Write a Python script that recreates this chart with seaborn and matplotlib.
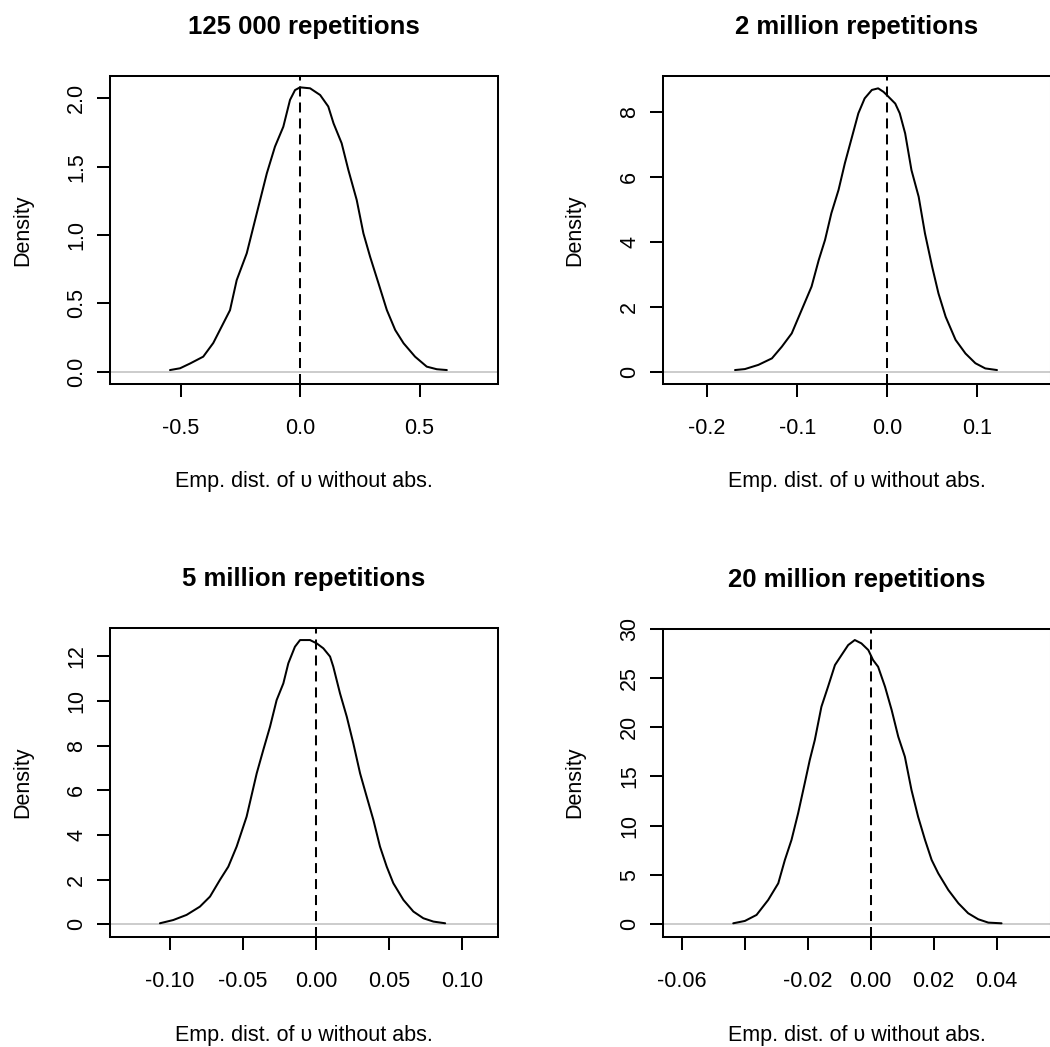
import matplotlib
matplotlib.use("Agg")
import matplotlib.pyplot as plt
import seaborn as sns
import pandas as pd

sns.set_style("white")
plt.rcParams["font.family"] = ["Liberation Sans", "DejaVu Sans"]
plt.rcParams["lines.scale_dashes"] = False

# ---- data ----
titles = ["125 000 repetitions", "2 million repetitions",
          "5 million repetitions", "20 million repetitions"]
xlabel_text = "Emp. dist. of \u03c5 without abs."
ylabel_text = "Density"

p1_x = [-0.544, -0.502, -0.460, -0.405, -0.363, -0.321, -0.293, -0.265, -0.223, -0.181,
        -0.139, -0.105, -0.070, -0.042, -0.021, 0.0, 0.042, 0.084, 0.118, 0.140,
        0.174, 0.202, 0.237, 0.265, 0.293, 0.328, 0.363, 0.398, 0.433, 0.481,
        0.530, 0.572, 0.614]
p1_y = [0.012, 0.025, 0.06, 0.11, 0.21, 0.354, 0.45, 0.67, 0.866, 1.159,
        1.451, 1.646, 1.792, 1.988, 2.06, 2.08, 2.073, 2.024, 1.94, 1.817,
        1.671, 1.476, 1.256, 1.012, 0.841, 0.647, 0.451, 0.305, 0.208, 0.11,
        0.037, 0.018, 0.012]

p2_x = [-0.169, -0.158, -0.143, -0.128, -0.117, -0.106, -0.095, -0.084, -0.076, -0.069,
        -0.062, -0.054, -0.047, -0.039, -0.032, -0.025, -0.017, -0.010, -0.004, 0.0015,
        0.009, 0.014, 0.020, 0.027, 0.035, 0.042, 0.050, 0.057, 0.065, 0.076,
        0.087, 0.098, 0.109, 0.122]
p2_y = [0.05, 0.08, 0.21, 0.41, 0.77, 1.18, 1.90, 2.62, 3.44, 4.06,
        4.88, 5.60, 6.42, 7.24, 7.96, 8.42, 8.68, 8.73, 8.62, 8.47,
        8.26, 7.96, 7.34, 6.21, 5.39, 4.26, 3.23, 2.41, 1.69, 0.98,
        0.56, 0.26, 0.10, 0.05]

p3_x = [-0.1066, -0.0975, -0.0884, -0.0793, -0.0724, -0.0656, -0.0599, -0.0542, -0.0474, -0.0405,
        -0.0360, -0.0314, -0.0269, -0.0223, -0.0189, -0.0144, -0.0109, -0.0041, 0.0005, 0.0050,
        0.0096, 0.0118, 0.0164, 0.0210, 0.0255, 0.0301, 0.0346, 0.0392, 0.0437, 0.0483,
        0.0528, 0.0597, 0.0665, 0.0733, 0.0802, 0.0882]
p3_y = [0.045, 0.19, 0.42, 0.79, 1.24, 1.99, 2.58, 3.48, 4.82, 6.76,
        7.81, 8.85, 10.04, 10.79, 11.69, 12.43, 12.73, 12.73, 12.58, 12.36,
        11.99, 11.54, 10.34, 9.30, 8.10, 6.76, 5.72, 4.67, 3.48, 2.58,
        1.84, 1.09, 0.57, 0.27, 0.12, 0.045]

p4_x = [-0.0436, -0.0399, -0.0362, -0.0325, -0.0293, -0.0272, -0.0251, -0.0230, -0.0209, -0.0193,
        -0.0177, -0.0156, -0.0135, -0.0113, -0.0092, -0.0071, -0.0050, -0.0029, -0.0007, 0.0008,
        0.0024, 0.0046, 0.0067, 0.0088, 0.0109, 0.0130, 0.0151, 0.0173, 0.0194, 0.0215,
        0.0247, 0.0279, 0.0310, 0.0342, 0.0374, 0.0416]
p4_y = [0.10, 0.34, 0.95, 2.47, 4.16, 6.53, 8.56, 11.26, 14.31, 16.67,
        18.70, 22.08, 24.11, 26.31, 27.33, 28.34, 28.85, 28.51, 27.83, 26.82,
        26.14, 24.11, 21.75, 19.04, 17.01, 13.63, 10.92, 8.56, 6.53, 5.17,
        3.48, 2.13, 1.12, 0.51, 0.17, 0.10]

p1_xticks = [-0.5, 0.0, 0.5]
p1_xticklabels = ["-0.5", "0.0", "0.5"]
p1_yticks = [0.0, 0.5, 1.0, 1.5, 2.0]
p1_yticklabels = ["0.0", "0.5", "1.0", "1.5", "2.0"]

p2_xticks = [-0.2, -0.1, 0.0, 0.1]
p2_xticklabels = ["-0.2", "-0.1", "0.0", "0.1"]
p2_yticks = [0, 2, 4, 6, 8]
p2_yticklabels = ["0", "2", "4", "6", "8"]

p3_xticks = [-0.10, -0.05, 0.0, 0.05, 0.10]
p3_xticklabels = ["-0.10", "-0.05", "0.00", "0.05", "0.10"]
p3_yticks = [0, 2, 4, 6, 8, 10, 12]
p3_yticklabels = ["0", "2", "4", "6", "8", "10", "12"]

p4_xticks = [-0.06, -0.04, -0.02, 0.0, 0.02, 0.04]
p4_xticklabels = ["-0.06", "", "-0.02", "0.00", "0.02", "0.04"]
p4_yticks = [0, 5, 10, 15, 20, 25, 30]
p4_yticklabels = ["0", "5", "10", "15", "20", "25", "30"]

panels = [
    dict(x=p1_x, y=p1_y, xt=p1_xticks, xtl=p1_xticklabels, yt=p1_yticks, ytl=p1_yticklabels,
         xlim=(-0.795, 0.828), ylim=(-0.090, 2.163)),
    dict(x=p2_x, y=p2_y, xt=p2_xticks, xtl=p2_xticklabels, yt=p2_yticks, ytl=p2_yticklabels,
         xlim=(-0.249, 0.182), ylim=(-0.38, 9.11)),
    dict(x=p3_x, y=p3_y, xt=p3_xticks, xtl=p3_xticklabels, yt=p3_yticks, ytl=p3_yticklabels,
         xlim=(-0.1407, 0.1243), ylim=(-0.57, 13.27)),
    dict(x=p4_x, y=p4_y, xt=p4_xticks, xtl=p4_xticklabels, yt=p4_yticks, ytl=p4_yticklabels,
         xlim=(-0.0659, 0.0573), ylim=(-1.29, 30.02)),
]

# ---- layout ----
W, H = 1050, 1047
fig = plt.figure(figsize=(W / 100, H / 100), dpi=100)
boxes = [(110, 76, 498, 384), (663, 76, 1051, 384),
         (110, 628, 498, 937), (663, 628.5, 1051, 937)]

LW = 1.45
FS = 15.5
for i, (p, (x0, y0, x1, y1)) in enumerate(zip(panels, boxes)):
    ax = fig.add_axes([x0 / W, 1 - y1 / H, (x1 - x0) / W, (y1 - y0) / H])
    df = pd.DataFrame({"v": p["x"], "d": p["y"]})
    ax.axhline(0, color="#bebebe", linewidth=1.1, zorder=1)
    sns.lineplot(data=df, x="v", y="d", ax=ax, color="black", linewidth=LW, zorder=3)
    ax.axvline(0, color="black", linewidth=LW, dashes=(7.2, 4.3), zorder=2)
    ax.set_xlim(*p["xlim"])
    ax.set_ylim(*p["ylim"])
    ax.set_xticks(p["xt"])
    ax.set_xticklabels(p["xtl"])
    ax.set_yticks(p["yt"])
    ax.set_yticklabels(p["ytl"], rotation=90, va="center")
    for s in ax.spines.values():
        s.set_visible(True)
        s.set_linewidth(LW)
        s.set_color("black")
    ax.tick_params(axis="both", direction="out", length=9.4, width=LW, color="black",
                   labelsize=FS, labelcolor="black")
    ax.tick_params(axis="x", pad=15, bottom=True)
    ax.tick_params(axis="y", pad=7, left=True)
    h = y1 - y0
    ax.set_xlabel(xlabel_text, fontsize=FS, color="black")
    ax.xaxis.set_label_coords(0.5, -(482 - 384) / 308)
    ax.xaxis.label.set_va("center")
    ax.set_ylabel(ylabel_text, fontsize=FS, color="black")
    ax.yaxis.set_label_coords(-(x0 - (23 if x0 < 500 else 575)) / 388, 0.5)
    ax.yaxis.label.set_va("center")
    ax.set_title(titles[i], fontsize=18.5, fontweight="bold", color="black",
                 y=1 + (49 / h), va="center", pad=0)

fig.savefig("out.png", dpi=100)
